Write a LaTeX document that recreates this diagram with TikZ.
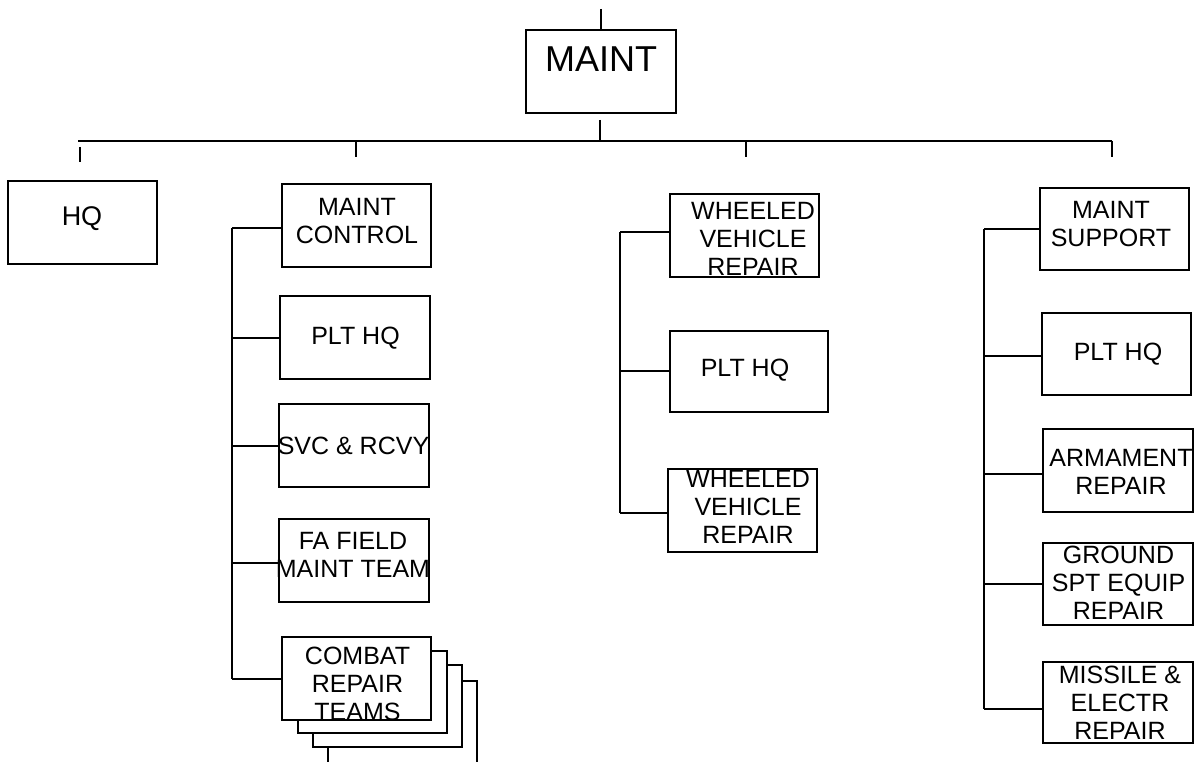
\documentclass[tikz,border=0pt]{standalone}
\usepackage{fontspec}
\setmainfont{Liberation Sans}
\begin{document}
\begin{tikzpicture}[x=1pt,y=-1pt,
  box/.style={draw,line width=1.5pt,fill=white,inner sep=0pt},
  lbl/.style={inner sep=0pt,align=center,font=\fontsize{25}{28}\selectfont},
  conn/.style={line width=2pt}]
\useasboundingbox (0,0) rectangle (1196,762);
% boxes
\node[box,minimum width=150pt,minimum height=83pt] (maint) at (601,71.5) {};
\node[box,minimum width=149pt,minimum height=83pt] (hq) at (82.5,222.5) {};
\node[box,minimum width=149pt,minimum height=83pt] (mc) at (356.5,225.5) {};
\node[box,minimum width=150pt,minimum height=83pt] (lplt) at (355,337.5) {};
\node[box,minimum width=150pt,minimum height=83pt] (svc) at (354,445.5) {};
\node[box,minimum width=150pt,minimum height=83pt] (fa) at (354,560.5) {};
\node[box,minimum width=149pt,minimum height=86pt] (cb4) at (402.5,724) {};
\node[box,minimum width=149pt,minimum height=82pt] (cb3) at (387.5,706) {};
\node[box,minimum width=149pt,minimum height=82pt] (cb2) at (372.5,692) {};
\node[box,minimum width=149pt,minimum height=83pt] (cb) at (356.5,678.5) {};
\node[box,minimum width=149pt,minimum height=83pt] (wv1) at (744.5,235.5) {};
\node[box,minimum width=158pt,minimum height=81pt] (mplt) at (749,371.5) {};
\node[box,minimum width=149pt,minimum height=83pt] (wv2) at (742.5,510.5) {};
\node[box,minimum width=149pt,minimum height=82pt] (ms) at (1114.5,229) {};
\node[box,minimum width=149pt,minimum height=82pt] (rplt) at (1116.5,354) {};
\node[box,minimum width=150pt,minimum height=83pt] (arm) at (1118,470.5) {};
\node[box,minimum width=150pt,minimum height=82pt] (gse) at (1118,584) {};
\node[box,minimum width=150pt,minimum height=81pt] (mer) at (1118,702.5) {};
% labels
\node[inner sep=0pt,font=\fontsize{36}{40}\selectfont] (maintt) at (601,59.5) {MAINT};
\node[lbl,font=\fontsize{27}{30}\selectfont] (hqt) at (82,219) {HQ};
\node[lbl] (mct) at (357,221.5) {MAINT\\CONTROL};
\node[lbl] (lpltt) at (355.5,338) {PLT HQ};
\node[lbl] (svct) at (353.5,446) {SVC \& RCVY};
\node[lbl] (fat) at (353,554.5) {FA FIELD\\MAINT TEAM};
\node[lbl] (cbt) at (357.5,684) {COMBAT\\REPAIR\\TEAMS};
\node[lbl] (wv1t) at (753,238.5) {WHEELED\\VEHICLE\\REPAIR};
\node[lbl] (mpltt) at (745,370) {PLT HQ};
\node[lbl] (wv2t) at (748,507) {WHEELED\\VEHICLE\\REPAIR};
\node[lbl] (mst) at (1111,224) {MAINT\\SUPPORT};
\node[lbl] (rpltt) at (1118,354.5) {PLT HQ};
\node[lbl] (armt) at (1121,472) {ARMAMENT\\REPAIR};
\node[lbl] (gset) at (1118.5,583) {GROUND\\SPT EQUIP\\REPAIR};
\node[lbl] (mert) at (1120,702.5) {MISSILE \&\\ELECTR\\REPAIR};
% top connectors
\coordinate (topend) at (601,9);
\draw[conn] (topend) -- (maint.north);
\coordinate (drop) at (600,120);
\coordinate (busC) at (600,141);
\draw[conn] (drop) -- (busC);
\coordinate (busL) at (78,141);
\coordinate (busR) at (1112,141);
\draw[conn] (busL) -- (busR);
\coordinate (t1a) at (80,147); \coordinate (t1b) at (80,162);
\draw[conn] (t1a) -- (t1b);
\coordinate (t2a) at (356,141); \coordinate (t2b) at (356,157);
\draw[conn] (t2a) -- (t2b);
\coordinate (t3a) at (746,141); \coordinate (t3b) at (746,157);
\draw[conn] (t3a) -- (t3b);
\coordinate (t4a) at (1112,141); \coordinate (t4b) at (1112,157);
\draw[conn] (t4a) -- (t4b);
% left column
\coordinate (lsT) at (232,228); \coordinate (lsB) at (232,679);
\draw[conn] (lsT) -- (lsB);
\draw[conn] (lsT) -- ([yshift=-2.5pt]mc.west);
\draw[conn] ([yshift=-0.5pt]lplt.west) coordinate (lw) -- (lw -| lsT);
\draw[conn] ([yshift=-0.5pt]svc.west) coordinate (sw) -- (sw -| lsT);
\draw[conn] ([yshift=-2.5pt]fa.west) coordinate (fw) -- (fw -| lsT);
\draw[conn] ([yshift=-0.5pt]cb.west) coordinate (cw) -- (cw -| lsT);
% middle column
\coordinate (msT) at (620,232); \coordinate (msB) at (620,513);
\draw[conn] (msT) -- (msB);
\draw[conn] (msT) -- ([yshift=3.5pt]wv1.west);
\draw[conn] ([yshift=0.5pt]mplt.west) coordinate (mw) -- (mw -| msT);
\draw[conn] (msB) -- ([yshift=-2.5pt]wv2.west);
% right column
\coordinate (rsT) at (984,229); \coordinate (rsB) at (984,709);
\draw[conn] (rsT) -- (rsB);
\draw[conn] (rsT) -- (ms.west);
\draw[conn] ([yshift=-2pt]rplt.west) coordinate (rw) -- (rw -| rsT);
\draw[conn] ([yshift=-3.5pt]arm.west) coordinate (aw) -- (aw -| rsT);
\draw[conn] (gse.west) -- (gse.west -| rsT);
\draw[conn] (rsB) -- ([yshift=-6.5pt]mer.west);
\end{tikzpicture}
\end{document}
